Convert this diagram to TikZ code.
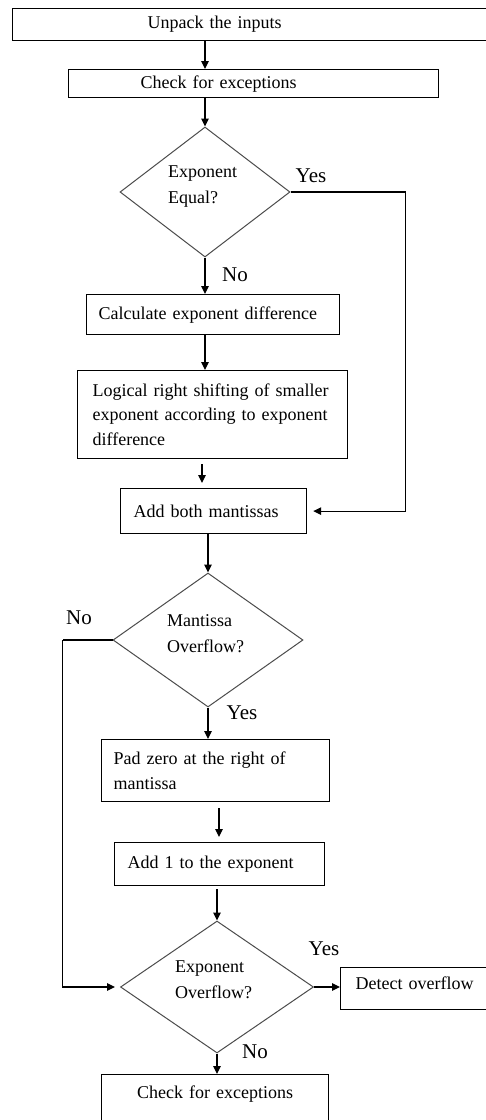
\documentclass[tikz,border=0pt]{standalone}
\usepackage{fontspec}
\setmainfont{Liberation Serif}
\usetikzlibrary{shapes.geometric,arrows.meta,calc}
\tikzset{
  box/.style={draw=black, line width=1.2pt, rectangle, inner ysep=0pt, align=left,
    font=\fontsize{18}{24.5}\selectfont},
  dia/.style={draw=black!70, line width=1pt, shape=diamond, inner sep=0pt},
  diatext/.style={anchor=west, align=left, inner sep=0pt, font=\fontsize{18}{26}\selectfont},
  lbl/.style={inner sep=0pt, font=\fontsize{21}{24}\selectfont},
  arr/.style={line width=1.2pt, -{Triangle[length=8pt,width=7.5pt]}},
  ln/.style={line width=1.2pt}
}
\begin{document}
\begin{tikzpicture}[x=1pt,y=-1pt]
\useasboundingbox (0,0) rectangle (486,1120);
\clip (0,0) rectangle (486,1120);
\fill[white] (0,0) rectangle (486,1120);
% boxes
\node[box, minimum height=32pt, text width=340pt, inner xsep=135pt, anchor=north west] (b1) at (12,8) {Unpack the inputs};
\node[box, minimum height=28pt, text width=226pt, inner xsep=72pt, anchor=north west] (b2) at (68,69) {Check for exceptions};
\node[dia, minimum width=170pt, minimum height=130pt] (d1) at (205,192) {};
\node[diatext] (d1t) at (168,187) {Exponent\\Equal?};
\node[box, minimum height=40pt, text width=229pt, inner xsep=12pt, anchor=north west] (b3) at (86,294) {Calculate exponent difference};
\node[box, minimum height=88pt, text width=240pt, inner xsep=15pt, anchor=north west] (b4) at (77,370) {Logical right shifting of smaller\\exponent according to exponent\\difference};
\node[box, minimum height=45pt, text width=160pt, inner xsep=13pt, anchor=north west] (b5) at (120,488) {Add both mantissas};
\node[dia, minimum width=190pt, minimum height=134pt] (d2) at (208,640) {};
\node[diatext] (d2t) at (167,634) {Mantissa\\Overflow?};
\node[box, minimum height=62pt, text width=204pt, inner xsep=12pt, anchor=north west] (b6) at (101,739) {Pad zero at the right of\\mantissa};
\node[box, minimum height=43pt, text width=184pt, inner xsep=13pt, anchor=north west] (b7) at (114,842) {Add 1 to the exponent};
\node[dia, minimum width=193pt, minimum height=132pt] (d3) at (217,987) {};
\node[diatext] (d3t) at (175,980) {Exponent\\Overflow?};
\node[box, minimum height=42pt, text width=170pt, inner xsep=15pt, anchor=north west] (b8) at (340,967) {Detect overflow\\[-14pt]\mbox{}};
\node[box, minimum height=60pt, text width=227pt, inner xsep=0pt, align=center, anchor=north west] (b9) at (101,1074) {Check for exceptions\\\mbox{}};
% labels
\node[lbl] (y1) at (311,176) {Yes};
\node[lbl] (n1) at (235,275) {No};
\node[lbl] (n2) at (79,618) {No};
\node[lbl] (y2) at (242,713) {Yes};
\node[lbl] (y3) at (324,949) {Yes};
\node[lbl] (n3) at (255,1052) {No};
% connectors
\draw[arr] (b1.south -| d1.north) -- (b2.north -| d1.north);
\draw[arr] (b2.south -| d1.north) -- (d1.north);
\draw[arr] (d1.south) -- (d1.south |- b3.north);
\draw[arr] (b3.south -| d1.north) -- (b4.north -| d1.north);
\draw[arr, shorten <=5pt, shorten >=5pt] ($(b4.south -| d1.north)+(-3,0)$) -- ($(b5.north -| d1.north)+(-3,0)$);
\coordinate (r1) at ($(d1.east)+(115,0)$);
\draw[ln] (d1.east) -- (r1);
\draw[arr, shorten >=6pt] (r1) -- (r1 |- b5.east) -- (b5.east);
\draw[arr] (b5.south -| d2.north) -- (d2.north);
\draw[arr] (d2.south) -- (d2.south |- b6.north);
\coordinate (l1) at ($(d2.west)+(-50,0)$);
\draw[ln] (d2.west) -- (l1);
\draw[arr, shorten >=5pt] (l1) -- (l1 |- d3.west) -- (d3.west);
\draw[arr, shorten <=6pt, shorten >=5pt] ($(b6.south -| d3.north)+(2,0)$) -- ($(b7.north -| d3.north)+(2,0)$);
\draw[arr, shorten <=3pt] (b7.south -| d3.north) -- (d3.north);
\draw[arr] (d3.east) -- (b8.west |- d3.east);
\draw[arr] (d3.south) -- (d3.south |- b9.north);
\end{tikzpicture}
\end{document}
